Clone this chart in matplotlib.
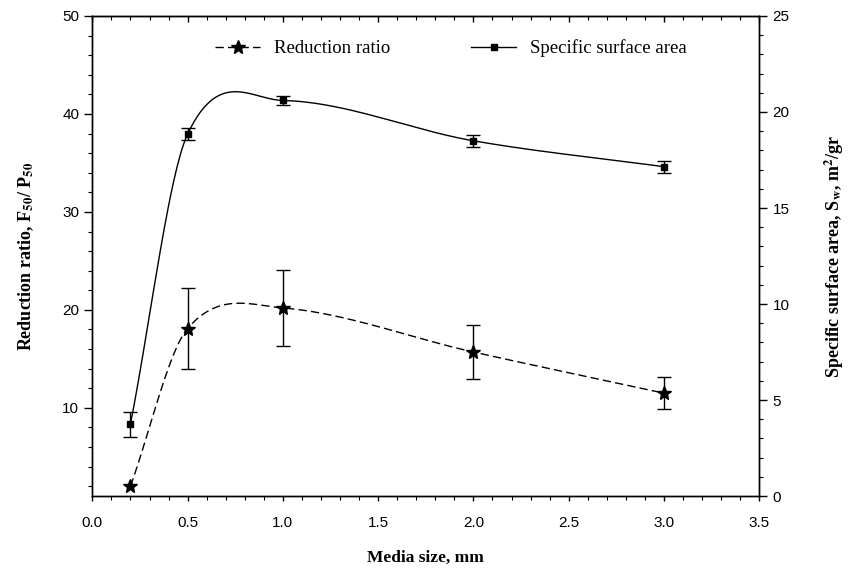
import numpy as np
import matplotlib
matplotlib.use("Agg")
import matplotlib.pyplot as plt
from matplotlib.ticker import MultipleLocator, FormatStrFormatter
from matplotlib.lines import Line2D

# ---- data ----
media_size = [0.2, 0.5, 1.0, 2.0, 3.0]
reduction_ratio = [2.0, 18.1, 20.2, 15.7, 11.5]
reduction_err = [0.0, 4.15, 3.9, 2.75, 1.65]
surface_area = [3.75, 18.85, 20.6, 18.5, 17.15]
surface_err = [0.65, 0.32, 0.21, 0.30, 0.32]


def hermite_curve(xp, yp, n=60):
    """Cubic Hermite curve through the points with finite-difference tangents."""
    xp = np.asarray(xp, float)
    yp = np.asarray(yp, float)
    m = len(xp)
    t = np.empty(m)
    t[0] = (yp[1] - yp[0]) / (xp[1] - xp[0])
    t[-1] = (yp[-1] - yp[-2]) / (xp[-1] - xp[-2])
    for i in range(1, m - 1):
        t[i] = (yp[i + 1] - yp[i - 1]) / (xp[i + 1] - xp[i - 1])
    xs_all, ys_all = [], []
    for i in range(m - 1):
        h = xp[i + 1] - xp[i]
        s = np.linspace(0, 1, n)
        h00 = 2 * s ** 3 - 3 * s ** 2 + 1
        h10 = s ** 3 - 2 * s ** 2 + s
        h01 = -2 * s ** 3 + 3 * s ** 2
        h11 = s ** 3 - s ** 2
        ys = h00 * yp[i] + h10 * h * t[i] + h01 * yp[i + 1] + h11 * h * t[i + 1]
        xs_all.append(xp[i] + s * h)
        ys_all.append(ys)
    return np.concatenate(xs_all), np.concatenate(ys_all)


plt.rcParams["font.family"] = ["Liberation Sans", "DejaVu Sans"]
plt.rcParams["mathtext.fontset"] = "stix"

fig = plt.figure(figsize=(8.55, 5.71), dpi=100)
ax = fig.add_axes([0.108, 0.1313, 0.780, 0.8407])
ax2 = ax.twinx()

# reduction ratio (left axis)
xs, ys = hermite_curve(media_size, reduction_ratio)
ax.plot(xs, ys, color="black", lw=1.0, dashes=(6, 3))
ax.errorbar(media_size[1:], reduction_ratio[1:], yerr=reduction_err[1:], fmt="none",
            ecolor="black", elinewidth=1.0, capsize=5, capthick=1.0)
ax.plot(media_size, reduction_ratio, ls="none", marker="*", ms=10, color="black")

# specific surface area (right axis)
xs2, ys2 = hermite_curve(media_size, surface_area)
ax2.plot(xs2, ys2, color="black", lw=1.0)
ax2.errorbar(media_size, surface_area, yerr=surface_err, fmt="none",
             ecolor="black", elinewidth=1.0, capsize=5, capthick=1.0)
ax2.plot(media_size, surface_area, ls="none", marker="s", ms=4.5, color="black")

ax.set_xlim(0, 3.5)
ax.set_ylim(1, 50)
ax2.set_ylim(0, 25)

ax.xaxis.set_major_locator(MultipleLocator(0.5))
ax.xaxis.set_minor_locator(MultipleLocator(0.1))
ax.set_yticks([10, 20, 30, 40, 50])
ax.yaxis.set_minor_locator(MultipleLocator(2))
ax2.yaxis.set_major_locator(MultipleLocator(5))
ax2.yaxis.set_minor_locator(MultipleLocator(1))
ax.xaxis.set_major_formatter(FormatStrFormatter("%.1f"))

ax.tick_params(axis="x", which="major", direction="out", length=3.5, width=1, labelsize=11, pad=11)
ax.tick_params(axis="x", which="minor", direction="out", length=3, width=0.8)
ax.tick_params(axis="y", which="major", direction="out", length=6, width=1, labelsize=11)
ax.tick_params(axis="y", which="minor", direction="out", length=3, width=0.8)
ax2.tick_params(axis="y", which="major", direction="out", length=6, width=1, labelsize=11)
ax2.tick_params(axis="y", which="minor", direction="out", length=3, width=0.8)

sec = ax.secondary_xaxis("top")
sec.xaxis.set_major_locator(MultipleLocator(0.5))
sec.xaxis.set_minor_locator(MultipleLocator(0.1))
sec.tick_params(which="major", direction="in", length=4, width=1, labeltop=False)
sec.tick_params(which="minor", direction="in", length=3, width=0.8)

for a in (ax, ax2):
    for s in a.spines.values():
        s.set_linewidth(1.0)

serif = ["Liberation Serif", "DejaVu Serif"]
ax.set_xlabel("Media size, mm", family=serif, fontweight="bold", fontsize=12.5, labelpad=14)
ax.set_ylabel(r"Reduction ratio, F$_{\mathbf{50}}$/ P$_{\mathbf{50}}$", family=serif,
              fontweight="bold", fontsize=13, labelpad=19)
ax2.set_ylabel(r"Specific surface area, S$_{\mathbf{w}}$, m$^{\mathbf{2}}$/gr", family=serif,
               fontweight="bold", fontsize=13, labelpad=24)

handles = [
    Line2D([], [], color="black", lw=1.0, dashes=(6, 3), marker="*", ms=10),
    Line2D([], [], color="black", lw=1.0, marker="s", ms=4.5),
]
ax.legend(handles, ["Reduction ratio", "Specific surface area"], loc="center",
          bbox_to_anchor=(0.538, 0.933), ncol=2, frameon=False, handlelength=2.4,
          handletextpad=0.75, columnspacing=4.3, prop={"family": serif, "size": 13.5})

fig.savefig("out.png", dpi=100)
